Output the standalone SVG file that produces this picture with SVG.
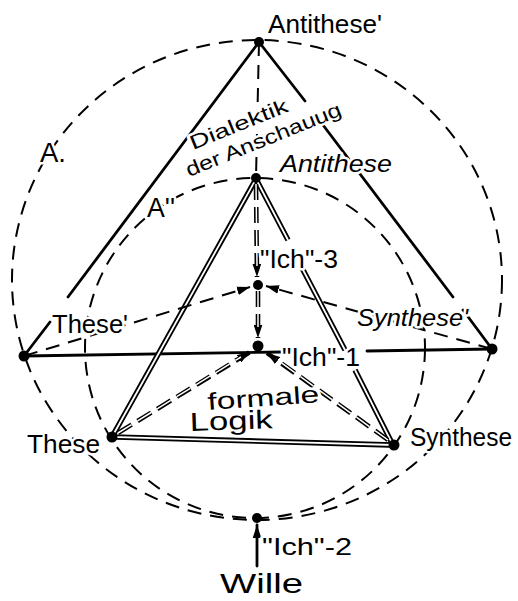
<svg xmlns="http://www.w3.org/2000/svg" width="518" height="601" viewBox="0 0 518 601">
<defs>
<marker id="arr" viewBox="0 0 12 8" refX="12" refY="4" markerWidth="13" markerHeight="9" markerUnits="userSpaceOnUse" orient="auto"><path d="M0,0 L12,4 L0,8 z" fill="#000"/></marker>
</defs>
<style>
.bg{fill:#fff}
.dash{fill:none;stroke:#000;stroke-width:2;stroke-dasharray:14 9}
.solid{fill:none;stroke:#000;stroke-width:2.8;stroke-linecap:round}
.dblo{fill:none;stroke:#000;stroke-width:5.5;stroke-linejoin:miter;stroke-miterlimit:10}
.dbli{fill:none;stroke:#fff;stroke-width:1.8;stroke-linejoin:miter;stroke-miterlimit:10}
.ddo{fill:none;stroke:#000;stroke-width:4.6;stroke-dasharray:16 7}
.ddi{fill:none;stroke:#fff;stroke-width:1.5;stroke-dasharray:16 7}
.dot{fill:#000}
text{font-family:"Liberation Sans","DejaVu Sans",sans-serif;fill:#000;paint-order:stroke;stroke:#fff;stroke-width:5;stroke-linejoin:round}
</style>
<rect class="bg" width="518" height="601"/>
<g id="circles">
<ellipse id="circleA1" class="dash" cx="257" cy="280" rx="245" ry="240"/>
<circle id="circleA2" class="dash" cx="255" cy="348" r="170"/>
</g>
<g id="connectors">
<path class="solid" d="M259,42 L68,297 M50,322 L24,356"/>
<path class="solid" d="M259,42 L305,101 M320,121 L453,297 M463,310 L492,349"/>
<path class="solid" d="M24,356 L283,352 M367,351 L492,349"/>
<path class="dash" d="M259,42 L256,177"/>
<path class="dblo" d="M288,240 L256,179 L112,437 L393,445 L355,370 M345,350 L302,268"/>
<path class="dbli" d="M288,240 L256,179 L112,437 L393,445 L355,370 M345,350 L302,268"/>
<path class="ddo" d="M256,184 L257,277" marker-end="url(#arr)"/>
<path class="ddi" d="M256,184 L257,266"/>
<path class="ddo" d="M258,291 L258,338" marker-end="url(#arr)"/>
<path class="ddi" d="M258,291 L258,327"/>
<path class="ddo" d="M118,433 L250,352" marker-end="url(#arr)"/>
<path class="ddi" d="M118,433 L241,357"/>
<path class="ddo" d="M388,440 L267,353" marker-end="url(#arr)"/>
<path class="ddi" d="M388,440 L276,359"/>
<path class="dash" d="M24,356 L250,287" marker-end="url(#arr)"/>
<path class="dash" d="M492,349 L266,286" marker-end="url(#arr)"/>
<path class="solid" d="M257,566 L257,525" marker-end="url(#arr)"/>
</g>
<g id="antithese1">
<circle class="dot" cx="259" cy="42" r="5"/>
<text x="268" y="33" font-size="26" textLength="114" lengthAdjust="spacingAndGlyphs">Antithese'</text>
</g>
<g id="dialektik">
<text transform="translate(193,150) rotate(-22)" font-size="20" textLength="104" lengthAdjust="spacingAndGlyphs">Dialektik</text>
<text transform="translate(189,177) rotate(-22)" font-size="20" textLength="166" lengthAdjust="spacingAndGlyphs">der Anschauug</text>
</g>
<g id="labelA1">
<text x="40" y="162" font-size="28" textLength="26" lengthAdjust="spacingAndGlyphs">A.</text>
</g>
<g id="labelA2">
<text x="147" y="217" font-size="28" textLength="28" lengthAdjust="spacingAndGlyphs">A''</text>
</g>
<g id="antithese">
<circle class="dot" cx="256" cy="178" r="5"/>
<text x="280" y="172" font-size="24" font-style="italic" textLength="112" lengthAdjust="spacingAndGlyphs">Antithese</text>
</g>
<g id="ich3">
<circle class="dot" cx="258" cy="285" r="5"/>
<text x="260" y="268" font-size="26" textLength="78" lengthAdjust="spacingAndGlyphs">"Ich"-3</text>
</g>
<g id="these1">
<circle class="dot" cx="24" cy="356" r="5.5"/>
<text x="52" y="333" font-size="26" textLength="76" lengthAdjust="spacingAndGlyphs">These'</text>
</g>
<g id="synthese1">
<circle class="dot" cx="492" cy="349" r="5.5"/>
<text x="357" y="326" font-size="24" font-style="italic" textLength="111" lengthAdjust="spacingAndGlyphs">Synthese'</text>
</g>
<g id="ich1">
<circle class="dot" cx="258" cy="346" r="5.5"/>
<text x="282" y="366" font-size="26" textLength="78" lengthAdjust="spacingAndGlyphs">"Ich"-1</text>
</g>
<g id="formaleLogik">
<text transform="translate(208,410) rotate(-4)" font-size="24" textLength="112" lengthAdjust="spacingAndGlyphs">formale</text>
<text transform="translate(190,431) rotate(-2)" font-size="26" textLength="83" lengthAdjust="spacingAndGlyphs">Logik</text>
</g>
<g id="these">
<circle class="dot" cx="112" cy="437" r="5.5"/>
<text x="27" y="453" font-size="26" textLength="73" lengthAdjust="spacingAndGlyphs">These</text>
</g>
<g id="synthese">
<circle class="dot" cx="394" cy="445" r="5.5"/>
<text x="410" y="446" font-size="25" textLength="102" lengthAdjust="spacingAndGlyphs">Synthese</text>
</g>
<g id="ich2">
<circle class="dot" cx="257" cy="518" r="5"/>
<text x="262" y="555" font-size="24" textLength="90" lengthAdjust="spacingAndGlyphs">"Ich"-2</text>
</g>
<g id="wille">
<text x="220" y="593" font-size="27" textLength="83" lengthAdjust="spacingAndGlyphs">Wille</text>
</g>
</svg>
